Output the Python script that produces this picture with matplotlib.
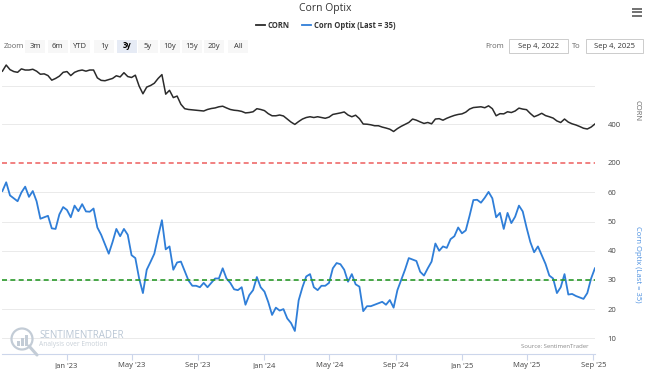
import numpy as np
import pandas as pd
import matplotlib
matplotlib.use("Agg")
import matplotlib.pyplot as plt
import matplotlib.dates as mdates
from matplotlib.patches import Rectangle, Circle

plt.rcParams['font.family'] = ['Open Sans', 'DejaVu Sans']

# weekly readings, Sep 4 2022 -> Sep 4 2025
corn = [678, 710, 686, 676, 672, 690, 684, 684, 688, 678,
        662, 664, 655, 631, 640, 652, 672, 676, 655, 672,
        680, 684, 678, 684, 684, 643, 630, 628, 634, 640,
        654, 648, 670, 650, 645, 657, 600, 560, 595, 603,
        615, 640, 660, 558, 578, 540, 548, 505, 482, 478,
        476, 474, 472, 470, 478, 483, 486, 492, 495, 486,
        478, 474, 472, 468, 460, 462, 466, 482, 478, 472,
        456, 445, 445, 449, 444, 428, 412, 400, 415, 428,
        436, 440, 436, 440, 436, 432, 438, 452, 456, 460,
        465, 449, 440, 448, 430, 402, 401, 398, 393, 393,
        386, 381, 375, 363, 378, 390, 400, 410, 428, 422,
        413, 405, 410, 403, 428, 430, 422, 432, 440, 447,
        452, 455, 464, 480, 488, 490, 492, 487, 497, 482,
        445, 456, 455, 466, 462, 470, 485, 480, 477, 457,
        440, 448, 458, 446, 440, 433, 418, 410, 428, 412,
        403, 397, 389, 380, 376, 386, 402]

optix = [60.5, 63.5, 59, 58, 57, 60, 62, 58.5, 60.5, 57,
         51, 51.5, 52, 47.7, 47.5, 52.5, 55, 54, 51.5, 55.5,
         53.6, 56, 53.5, 53.4, 54.5, 48, 45.5, 42.2, 39, 43,
         47.5, 45, 47.5, 45.5, 38.5, 37.5, 30.5, 25.5, 33.5, 36.2,
         39, 45, 50.5, 40.5, 41.5, 33.5, 36, 36.3, 33, 29.8,
         28, 28, 27.5, 29, 27.5, 29, 30.5, 30.5, 34, 30.5,
         29, 26.8, 26.5, 27.5, 21.5, 24.8, 26.5, 31, 27.5, 26,
         22.4, 18, 20.5, 19.5, 20, 16.8, 15.2, 12.5, 23, 27.5,
         31.2, 32, 27.5, 26.5, 28, 28, 29, 34, 35.8, 35.4,
         33.5, 29.4, 32, 28.5, 27.7, 19.3, 21, 21, 21.5, 22,
         22.5, 21.5, 23.1, 20.5, 26.5, 30, 33.5, 37.5, 37, 36.5,
         32.8, 31.5, 34, 36.3, 42.5, 40, 41.5, 41, 44, 45,
         48, 46, 47, 52, 57.4, 57.5, 56.5, 58.2, 60.2, 58,
         51.5, 53, 47.5, 53, 49.5, 51.7, 55.5, 53.5, 48, 43,
         39.5, 41.5, 38.5, 35.5, 31.5, 30.5, 25.5, 27.5, 32, 25,
         25.2, 24.5, 24, 23.5, 25.5, 30.5, 34]

dates = pd.date_range("2022-09-04", "2025-09-04", periods=len(corn))
tick_dates = pd.to_datetime(["2023-01-01", "2023-05-01", "2023-09-01", "2024-01-01",
                             "2024-05-01", "2024-09-01", "2025-01-01", "2025-05-01",
                             "2025-09-01"])
tick_labels = ["Jan '23", "May '23", "Sep '23", "Jan '24", "May '24", "Sep '24",
               "Jan '25", "May '25", "Sep '25"]
corn_ref = 200
optix_ref = 30

W, H = 645, 369
fig = plt.figure(figsize=(W / 100, H / 100), dpi=100)


def px_axes(x0, y0, x1, y1):
    return fig.add_axes([x0 / W, 1 - y1 / H, (x1 - x0) / W, (y1 - y0) / H])


xlim = (pd.Timestamp("2022-09-04"), pd.Timestamp("2025-09-04"))
grid_c = '#e6e6e6'
lab_c = '#444444'

# top pane: CORN
ax1 = px_axes(2.4, 59.3, 594.9, 162.7)
ax1.plot(dates, corn, color='#2b2b2b', lw=1.1)
ax1.set_xlim(xlim)
ax1.set_ylim(200, 740)
ax1.axhline(corn_ref, color='#ef6b6b', lw=1.2, ls=(0, (3, 2)), clip_on=False)
for v in [400, 600]:
    ax1.axhline(v, color=grid_c, lw=0.6, zorder=0)
ax1.yaxis.tick_right()
ax1.set_yticks([200, 400])
ax1.tick_params(axis='y', length=0, pad=9, labelsize=5.5, labelcolor=lab_c)
ax1.set_xticks([])
for s in ax1.spines.values():
    s.set_visible(False)

# bottom pane: Corn Optix
ax2 = px_axes(2.4, 175, 594.9, 354)
ax2.plot(dates, optix, color='#2f7ed8', lw=1.3)
ax2.set_xlim(xlim)
ax2.set_ylim(4.6, 66)
ax2.axhline(optix_ref, color='#2a9a2a', lw=1.2, ls=(0, (3, 2)))
for v in [10, 20, 30, 40, 50, 60]:
    ax2.axhline(v, color=grid_c, lw=0.6, zorder=0)
ax2.yaxis.tick_right()
ax2.set_yticks([10, 20, 30, 40, 50, 60])
ax2.tick_params(axis='y', length=0, pad=9, labelsize=5.5, labelcolor=lab_c)
ax2.set_xticks(tick_dates)
ax2.set_xticklabels(tick_labels)
ax2.tick_params(axis='x', length=4, width=0.8, color='#ccd6eb', pad=2,
                labelsize=5.5, labelcolor=lab_c)
for k, s in ax2.spines.items():
    s.set_visible(k == 'bottom')
ax2.spines['bottom'].set_color('#ccd6eb')
ax2.spines['bottom'].set_linewidth(0.8)

# overlay in pixel coordinates for header, axis titles and watermark
ov = fig.add_axes([0, 0, 1, 1])
ov.set_xlim(0, W)
ov.set_ylim(H, 0)
ov.axis('off')
ov.patch.set_visible(False)

ov.text(325, 9, "Corn Optix", ha='center', va='center', fontsize=7.5, color='#333333')
ov.plot([256, 265], [25, 25], color='#2b2b2b', lw=1.3)
ov.text(268, 25, "CORN", ha='left', va='center', fontsize=5.5, fontweight='bold', color='#333333')
ov.plot([302, 311], [25, 25], color='#2f7ed8', lw=1.3)
ov.text(314, 25, "Corn Optix (Last = 35)", ha='left', va='center', fontsize=5.5,
        fontweight='bold', color='#333333')

for yy in [8.5, 12, 15.5]:
    ov.plot([632, 642], [yy, yy], color='#666666', lw=1.3, solid_capstyle='butt')

ov.text(4, 46, "Zoom", ha='left', va='center', fontsize=5.5, color='#666666')
buttons = ["3m", "6m", "YTD", "1y", "3y", "5y", "10y", "15y", "20y", "All"]
button_x = [35, 57.5, 80, 104, 127, 148, 170, 192, 214, 238]
for b, bx in zip(buttons, button_x):
    sel = b == "3y"
    ov.add_patch(Rectangle((bx - 10, 39.5), 20, 13, facecolor='#e6ebf5' if sel else '#f7f7f7',
                           edgecolor='none'))
    ov.text(bx, 46, b, ha='center', va='center', fontsize=5.5, color='#000000' if sel else '#333333',
            fontweight='bold' if sel else 'normal')

ov.text(504, 46, "From", ha='right', va='center', fontsize=5.5, color='#666666')
ov.add_patch(Rectangle((509, 39), 59, 14, facecolor='white', edgecolor='#cccccc', lw=0.7))
ov.text(538.5, 46, "Sep 4, 2022", ha='center', va='center', fontsize=5.5, color='#333333')
ov.text(581, 46, "To", ha='right', va='center', fontsize=5.5, color='#666666')
ov.add_patch(Rectangle((586, 39), 57, 14, facecolor='white', edgecolor='#cccccc', lw=0.7))
ov.text(614.5, 46, "Sep 4, 2025", ha='center', va='center', fontsize=5.5, color='#333333')

ov.text(637, 111, "CORN", rotation=270, ha='center', va='center', fontsize=5.5, color='#666666')
ov.text(637, 264, "Corn Optix (Last = 35)", rotation=270, ha='center', va='center',
        fontsize=5.5, color='#4a8fe0')

ov.text(589, 347, "Source: SentimenTrader", ha='right', va='center', fontsize=4.3, color='#888888')

# watermark logo
wm = '#c3ccd6'
ov.add_patch(Circle((22, 339), 10.5, facecolor='none', edgecolor=wm, lw=1.6))
for bx, bh in zip([17, 21, 25], [5, 8, 11]):
    ov.add_patch(Rectangle((bx, 346 - bh), 3, bh, facecolor=wm, edgecolor='none'))
ov.plot([29, 37], [346, 355], color=wm, lw=2.2, solid_capstyle='round')
ov.text(39, 335.5, "SENTIMENTRADER", ha='left', va='center', fontsize=7, color='#b9c6d4')
ov.text(39, 344, "Analysis over Emotion", ha='left', va='center', fontsize=4.8, color='#c8d0d8')

fig.savefig("out.png", dpi=100)
